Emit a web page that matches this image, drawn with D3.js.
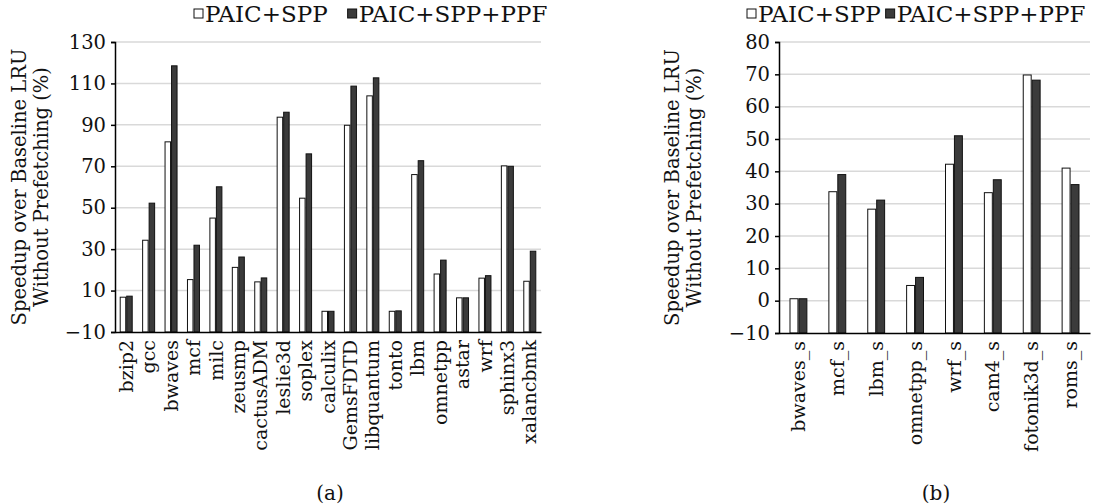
<!DOCTYPE html>
<html>
<head>
<meta charset="utf-8">
<script src="https://cdn.jsdelivr.net/npm/d3@7"></script>
<style>
  body { margin: 0; background: #fff; }
  text { font-family: "DejaVu Serif", serif; fill: #111; }
</style>
</head>
<body>
<svg id="chart" width="1110" height="504"></svg>
<script>
// (a) SPEC CPU2006
const catsA = ['bzip2', 'gcc', 'bwaves', 'mcf', 'milc', 'zeusmp', 'cactusADM', 'leslie3d', 'soplex', 'calculix',
  'GemsFDTD', 'libquantum', 'tonto', 'lbm', 'omnetpp', 'astar', 'wrf', 'sphinx3', 'xalancbmk'];
const sppA = [6.8, 34.3, 81.8, 15.3, 45.0, 21.2, 14.2, 93.7, 54.6, 0, 89.8, 104.0, 0, 66.0, 18.0, 6.5, 16.0, 70.2, 14.5];
const ppfA = [7.3, 52.2, 118.5, 31.9, 60.1, 26.2, 16.1, 96.1, 76.0, 0, 108.7, 112.7, 0.2, 72.7, 24.7, 6.5, 17.2, 70.0, 29.0];
const ticksA = [-10, 10, 30, 50, 70, 90, 110, 130];

// (b) SPEC CPU2017
const catsB = ['bwaves_s', 'mcf_s', 'lbm_s', 'omnetpp_s', 'wrf_s', 'cam4_s', 'fotonik3d_s', 'roms_s'];
const sppB = [0.6, 33.7, 28.3, 4.7, 42.2, 33.4, 69.8, 41.0];
const ppfB = [0.6, 39.0, 31.1, 7.2, 51.0, 37.4, 68.2, 35.9];
const ticksB = [-10, 0, 10, 20, 30, 40, 50, 60, 70, 80];

const seriesNames = ['PAIC+SPP', 'PAIC+SPP+PPF'];
const fills = ['#ffffff', '#3b3b3b'];

const svg = d3.select('#chart');

function drawPanel(opt) {
  const g = svg.append('g');
  const x = d3.scaleBand().domain(opt.cats).range([opt.left, opt.right])
    .paddingInner(opt.pad).paddingOuter(opt.pad / 2);
  const xs = d3.scaleBand().domain([0, 1]).range([0, x.bandwidth()]);
  const y = d3.scaleLinear().domain([opt.ticks[0], opt.ticks[opt.ticks.length - 1]])
    .range([opt.bottom, opt.top]);

  // gridlines
  g.append('g')
    .selectAll('line')
    .data(opt.ticks.slice(1))
    .join('line')
    .attr('x1', opt.left).attr('x2', opt.right)
    .attr('y1', d => y(d)).attr('y2', d => y(d))
    .attr('stroke', '#d9d9d9').attr('stroke-width', 1.5);

  // bars
  const rows = opt.cats.map((c, i) => ({ c, v: [opt.spp[i], opt.ppf[i]] }));
  const grp = g.append('g').selectAll('g').data(rows).join('g')
    .attr('transform', d => 'translate(' + x(d.c) + ',0)');
  grp.selectAll('rect')
    .data(d => d.v.map((v, k) => ({ v, k })))
    .join('rect')
    .attr('x', d => xs(d.k) + 0.5)
    .attr('width', xs.bandwidth() - 1)
    .attr('y', d => y(d.v))
    .attr('height', d => y(opt.ticks[0]) - y(d.v))
    .attr('fill', d => fills[d.k])
    .attr('stroke', '#111')
    .attr('stroke-width', 1);

  // y axis
  const ay = g.append('g')
    .attr('transform', 'translate(' + opt.left + ',0)')
    .call(d3.axisLeft(y).tickValues(opt.ticks).tickSize(4).tickPadding(5)
      .tickFormat(d => d < 0 ? '\u2212' + Math.abs(d) : d));
  ay.select('.domain').attr('stroke', '#000').attr('stroke-width', 1.5);
  ay.selectAll('.tick line').attr('stroke', '#000').attr('stroke-width', 1.5);
  ay.selectAll('text').style('font-size', '19.5px').attr('fill', '#111');

  // x axis
  const ax = g.append('g')
    .attr('transform', 'translate(0,' + opt.bottom + ')')
    .call(d3.axisBottom(x).tickSize(0).tickPadding(8));
  ax.select('.domain').attr('stroke', '#000').attr('stroke-width', 1.5);
  ax.selectAll('text')
    .style('font-size', '19px')
    .attr('fill', '#111')
    .attr('text-anchor', 'end')
    .attr('dy', '0.35em')
    .attr('transform', 'rotate(-90)')
    .attr('x', -8).attr('y', 0);

  // y title
  const cy = (opt.top + opt.bottom) / 2;
  ['Speedup over Baseline LRU', 'Without Prefetching (%)'].forEach((t, i) => {
    g.append('text')
      .attr('transform', 'translate(' + (opt.titleX + i * 22) + ',' + cy + ') rotate(-90)')
      .attr('text-anchor', 'middle')
      .attr('dy', '0.35em')
      .style('font-size', '19.5px')
      .text(t);
  });

  // legend
  let lx = opt.legendX;
  seriesNames.forEach((name, k) => {
    g.append('rect')
      .attr('x', lx).attr('y', 9).attr('width', 9).attr('height', 9)
      .attr('fill', fills[k]).attr('stroke', '#111').attr('stroke-width', 1);
    const t = g.append('text')
      .attr('x', lx + 11).attr('y', 14).attr('dy', '0.35em')
      .style('font-size', '23px')
      .text(name);
    lx += 11 + t.node().getComputedTextLength() + opt.legendGap;
  });

  // caption
  g.append('text')
    .attr('x', opt.capX).attr('y', 493).attr('dy', '0.35em')
    .attr('text-anchor', 'middle')
    .style('font-size', '20px')
    .text(opt.caption);
}

drawPanel({
  cats: catsA, spp: sppA, ppf: ppfA, ticks: ticksA,
  left: 115, right: 541, top: 42, bottom: 332, pad: 0.42,
  titleX: 19, legendX: 194, legendGap: 20, capX: 330, caption: '(a)'
});

drawPanel({
  cats: catsB, spp: sppB, ppf: ppfB, ticks: ticksB,
  left: 779, right: 1090, top: 42, bottom: 333, pad: 0.54,
  titleX: 672, legendX: 747, legendGap: 5, capX: 936, caption: '(b)'
});
</script>
</body>
</html>
